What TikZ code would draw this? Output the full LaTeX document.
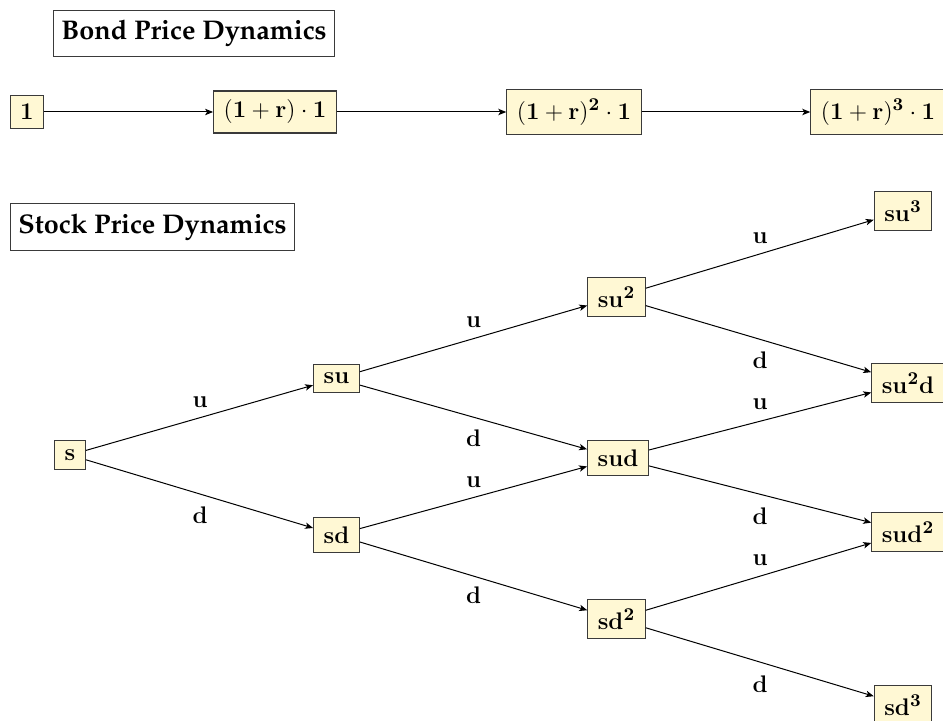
\documentclass[tikz,border=0pt]{standalone}
\usepackage[T1,TU]{fontenc}
\usetikzlibrary{arrows.meta}
\definecolor{boxfill}{HTML}{FFF8D4}
\definecolor{boxline}{HTML}{3A3A3A}
\newcommand{\ttlfont}{\fontencoding{T1}\fontfamily{ppl}\bfseries\selectfont}
\tikzset{
  valbox/.style={draw=boxline, fill=boxfill, line width=0.6pt, inner xsep=5pt, inner ysep=4.5pt, font=\fontsize{12.6}{14}\selectfont},
  titlebox/.style={draw=boxline, fill=white, line width=0.6pt, inner xsep=4pt, inner ysep=5pt, font=\fontsize{13.5}{16}\ttlfont},
  conn/.style={line width=0.5pt, -{Stealth[length=4pt,width=3.2pt,inset=1pt]}},
  lbl/.style={font=\fontsize{12.6}{14}\selectfont, inner sep=0pt}
}
\begin{document}
\begin{tikzpicture}[x=0.5pt,y=-0.5pt]
\useasboundingbox (0,0) rectangle (943,721);
% titles
\node[titlebox] (bt) at (194,33.5) {Bond Price Dynamics};
\node[titlebox] (st) at (152.5,227) {Stock Price Dynamics};
% bond row
\node[valbox] (b0) at (27,112) {$\mathbf{1}$};
\node[valbox] (b1) at (275,112) {$\mathbf{(1+r)\cdot 1}$};
\node[valbox] (b2) at (574,112) {$\mathbf{(1+r)^2\cdot 1}$};
\node[valbox] (b3) at (878,112) {$\mathbf{(1+r)^3\cdot 1}$};
\draw[conn] (b0) -- (b1);
\draw[conn] (b1) -- (b2);
\draw[conn] (b2) -- (b3);
% tree
\node[valbox] (s) at (70,455) {$\mathbf{s}$};
\node[valbox] (su) at (336.5,378.5) {$\mathbf{su}$};
\node[valbox] (sd) at (336.5,535) {$\mathbf{sd}$};
\node[valbox] (suu) at (616.5,297) {$\mathbf{su^2}$};
\node[valbox] (sud) at (618,458) {$\mathbf{sud}$};
\node[valbox] (sdd) at (616.5,619) {$\mathbf{sd^2}$};
\node[valbox] (suuu) at (903,211) {$\mathbf{su^3}$};
\node[valbox] (suud) at (908,383) {$\mathbf{su^2d}$};
\node[valbox] (sudd) at (908,532) {$\mathbf{sud^2}$};
\node[valbox] (sddd) at (903,705) {$\mathbf{sd^3}$};
\draw[conn] (s) -- (su);
\draw[conn] (s) -- (sd);
\draw[conn] (su) -- (suu);
\draw[conn] (su) -- (sud);
\draw[conn] (sd) -- (sud);
\draw[conn] (sd) -- (sdd);
\draw[conn] (suu) -- (suuu);
\draw[conn] (suu) -- (suud);
\draw[conn] (sud) -- (suud);
\draw[conn] (sud) -- (sudd);
\draw[conn] (sdd) -- (sudd);
\draw[conn] (sdd) -- (sddd);
% labels
\node[lbl] (l1) at (200,402) {$\mathbf{u}$};
\node[lbl] (l2) at (200,515) {$\mathbf{d}$};
\node[lbl] (l3) at (473.5,322) {$\mathbf{u}$};
\node[lbl] (l4) at (473.5,438) {$\mathbf{d}$};
\node[lbl] (l5) at (473.5,482) {$\mathbf{u}$};
\node[lbl] (l6) at (473.5,595) {$\mathbf{d}$};
\node[lbl] (l7) at (760,238) {$\mathbf{u}$};
\node[lbl] (l8) at (760,360) {$\mathbf{d}$};
\node[lbl] (l9) at (760,404) {$\mathbf{u}$};
\node[lbl] (l10) at (760,516) {$\mathbf{d}$};
\node[lbl] (l11) at (760,560) {$\mathbf{u}$};
\node[lbl] (l12) at (760,684) {$\mathbf{d}$};
\end{tikzpicture}
\end{document}
